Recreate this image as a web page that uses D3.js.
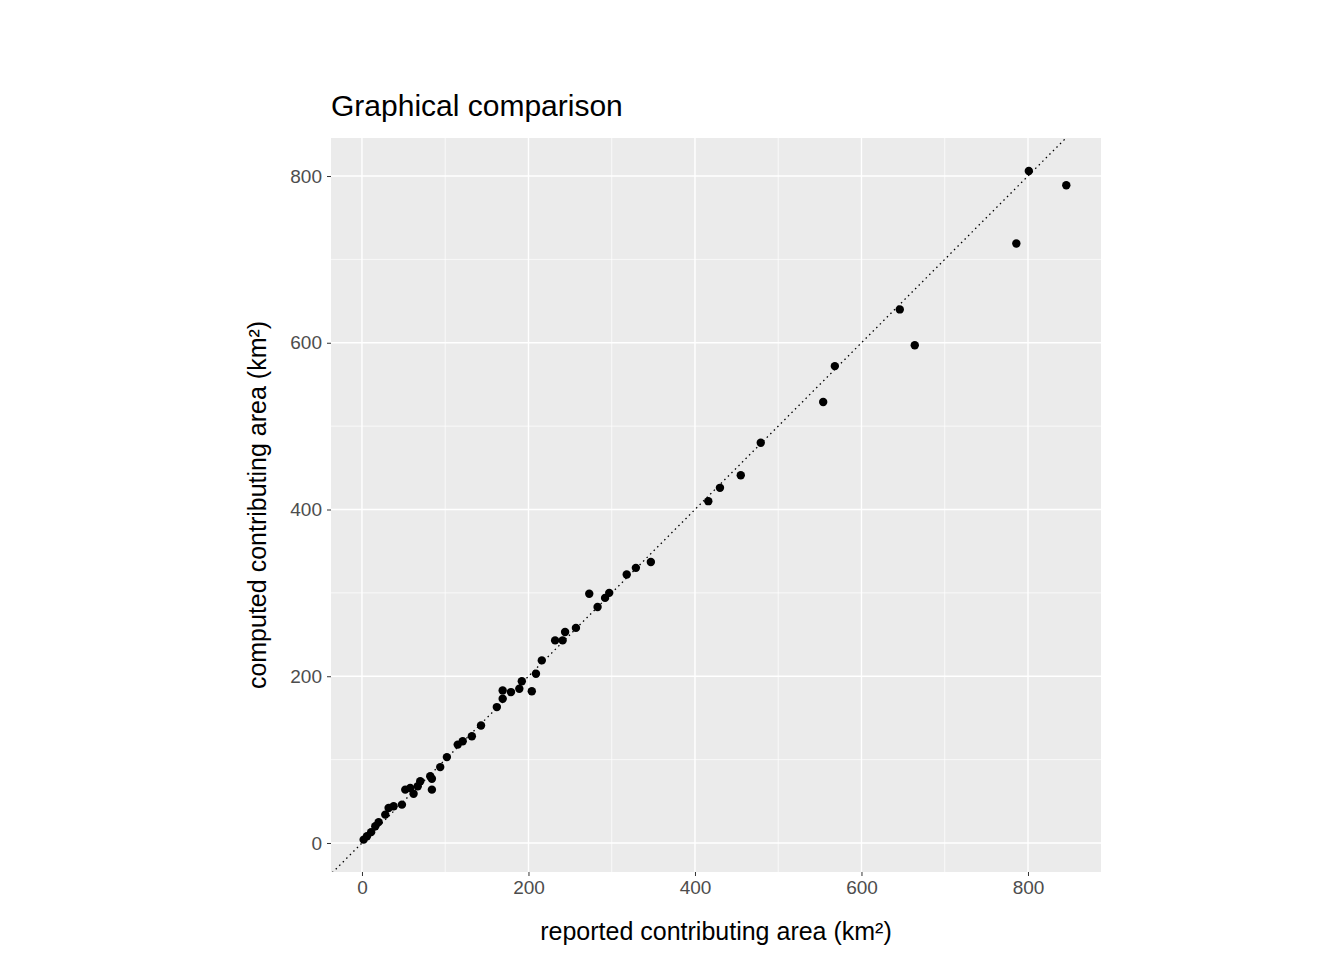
<!DOCTYPE html>
<html><head><meta charset="utf-8">
<script src="https://cdn.jsdelivr.net/npm/d3@7"></script>
<style>body{margin:0;background:#fff;font-family:Arial,"Liberation Sans",sans-serif;}</style>
</head><body>
<script>
// reported (x) vs computed (y) contributing area, km²
var reported = [846,801,786,646,664,568,554,479,455,430,416,347,329,318,297,292,283,273,257,244,241,232,216,209,204,192,189,179,169,169,162,143,132,121,115,102,94,84,84,82,70,67,62,58,52,48,38,32,28,20,16,11,6,2];
var computed = [789,806,719,640,597,572,529,480,441,426,410,337,330,322,300,294,283,299,258,253,243,243,219,203,182,194,185,181,183,173,163,141,128,122,118,103,91,77,64,80,74,68,59,66,64,46,44,42,34,25,20,13,8,4];
var ticks = [0,200,400,600,800];
var minor = [100,300,500,700];

var pLeft = 331, pRight = 1101, pTop = 138, pBottom = 872;

var svg = d3.select("body").append("svg").attr("width",1344).attr("height",960);

var x_scale = d3.scaleLinear().domain([-37.2,887.7]).range([pLeft,pRight]);
var y_scale = d3.scaleLinear().domain([-34.8,845.6]).range([pBottom,pTop]);

svg.append("rect").attr("x",pLeft).attr("y",pTop).attr("width",pRight-pLeft).attr("height",pBottom-pTop).attr("fill","#ebebeb");

// grid
minor.forEach(function(v){
  svg.append("line").attr("x1",x_scale(v)).attr("x2",x_scale(v)).attr("y1",pTop).attr("y2",pBottom).attr("stroke","#fff").attr("stroke-width",0.7);
  svg.append("line").attr("y1",y_scale(v)).attr("y2",y_scale(v)).attr("x1",pLeft).attr("x2",pRight).attr("stroke","#fff").attr("stroke-width",0.7);
});
ticks.forEach(function(v){
  svg.append("line").attr("x1",x_scale(v)).attr("x2",x_scale(v)).attr("y1",pTop).attr("y2",pBottom).attr("stroke","#fff").attr("stroke-width",1.4);
  svg.append("line").attr("y1",y_scale(v)).attr("y2",y_scale(v)).attr("x1",pLeft).attr("x2",pRight).attr("stroke","#fff").attr("stroke-width",1.4);
});

// axes
var xa = svg.append("g").attr("transform","translate(0,"+pBottom+")")
  .call(d3.axisBottom(x_scale).tickValues(ticks).tickSize(4).tickPadding(5));
var ya = svg.append("g").attr("transform","translate("+pLeft+",0)")
  .call(d3.axisLeft(y_scale).tickValues(ticks).tickSize(4).tickPadding(5));
[xa,ya].forEach(function(a){
  a.select(".domain").remove();
  a.selectAll(".tick line").attr("stroke","#333");
  a.selectAll(".tick text").attr("fill","#4d4d4d").style("font-size","19px").style("font-family","Arial,'Liberation Sans',sans-serif");
});

// y = x reference line, clipped
svg.append("clipPath").attr("id","clip").append("rect").attr("x",pLeft).attr("y",pTop).attr("width",pRight-pLeft).attr("height",pBottom-pTop);
svg.append("line").attr("clip-path","url(#clip)")
  .attr("x1",x_scale(-40)).attr("y1",y_scale(-40)).attr("x2",x_scale(900)).attr("y2",y_scale(900))
  .attr("stroke","#000").attr("stroke-width",1.3).attr("stroke-dasharray","1.5,3.5");

svg.selectAll(".dot").data(reported).enter().append("circle")
  .attr("class","dot").attr("r",4.2)
  .attr("cx",function(d){return x_scale(d);})
  .attr("cy",function(d,i){return y_scale(computed[i]);})
  .attr("fill","#000");

svg.append("text").attr("x",pLeft).attr("y",116).style("font-size","30px").text("Graphical comparison");
svg.append("text").attr("x",(pLeft+pRight)/2).attr("y",940).attr("text-anchor","middle").style("font-size","25px").text("reported contributing area (km²)");
svg.append("text").attr("transform","rotate(-90)").attr("x",-(pTop+pBottom)/2).attr("y",266).attr("text-anchor","middle").style("font-size","25px").text("computed contributing area (km²)");
</script>
</body></html>
